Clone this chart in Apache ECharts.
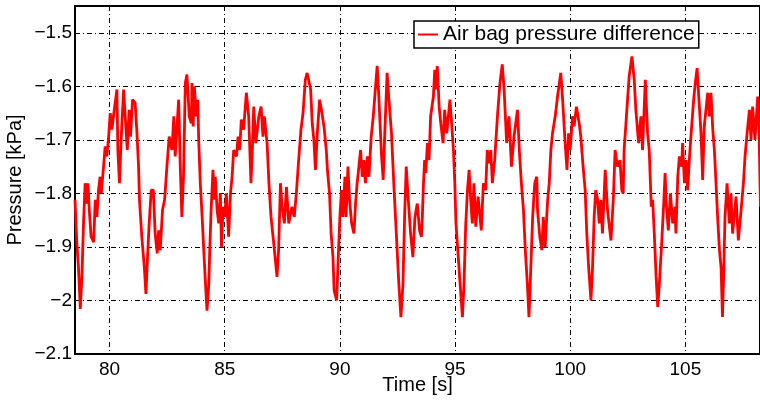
<!DOCTYPE html>
<html>
<head>
<meta charset="utf-8">
<script src="https://cdn.jsdelivr.net/npm/echarts@6/dist/echarts.min.js"></script>
<style>html,body{margin:0;padding:0;background:#fff}#c{width:760px;height:401px}</style>
</head>
<body>
<div id="c"></div>
<script>
var seriesName = 'Air bag pressure difference';
var xTickLabels = ['80','85','90','95','100','105'];
var yTickLabels = ['\u22122.1','\u22122','\u22121.9','\u22121.8','\u22121.7','\u22121.6','\u22121.5'];

var time = [
78.50,78.58,78.65,78.73,78.80,78.87,78.94,79.02,79.06,79.12,79.20,79.31,79.38,79.45,79.52,79.59,79.64,79.74,79.81,79.88,79.96,
80.03,80.10,80.17,80.32,80.36,80.43,80.51,80.61,80.68,80.77,80.85,80.91,81.00,81.11,81.19,81.26,81.30,81.40,81.51,81.58,81.65,
81.72,81.81,81.90,81.98,82.07,82.13,82.20,82.30,82.39,82.49,82.59,82.71,82.79,82.85,83.00,83.07,83.14,83.21,83.29,83.36,83.46,83.55,
83.58,83.63,83.68,83.77,83.83,83.87,83.94,84.02,84.09,84.15,84.23,84.31,84.35,84.41,84.49,84.55,84.59,84.67,84.74,84.81,84.86,84.93,
85.00,85.07,85.17,85.25,85.32,85.39,85.51,85.58,85.65,85.72,85.82,85.94,86.04,86.14,86.20,86.26,86.35,86.48,86.58,86.66,86.72,86.84,
86.92,87.01,87.13,87.27,87.34,87.42,87.49,87.59,87.68,87.78,87.92,88.02,88.11,88.21,88.31,88.40,88.50,
88.58,88.65,88.73,88.80,88.87,88.94,89.02,89.12,89.20,89.31,89.41,89.46,89.55,89.62,89.70,89.75,89.86,89.93,
90.00,90.07,90.13,90.22,90.27,90.35,90.42,90.51,90.61,90.68,90.75,90.90,90.97,91.04,91.11,91.19,91.26,91.36,91.45,91.55,91.62,91.69,
91.81,91.88,91.95,92.05,92.13,92.24,92.34,92.45,92.56,92.65,92.74,92.81,92.88,92.97,93.07,93.17,93.26,93.36,93.46,
93.54,93.58,93.63,93.68,93.73,93.80,93.87,93.94,94.06,94.12,94.18,94.23,94.31,94.38,94.48,94.55,94.64,94.78,94.86,94.93,94.99,
95.04,95.10,95.22,95.32,95.39,95.46,95.54,95.61,95.68,95.75,95.82,95.90,96.00,96.14,96.23,96.33,96.40,96.48,96.55,96.62,96.72,96.84,
96.95,97.05,97.13,97.24,97.34,97.45,97.56,97.71,97.79,97.88,97.97,98.05,98.14,98.21,98.29,98.37,98.46,98.55,
98.58,98.68,98.77,98.83,98.91,99.02,99.09,99.16,99.23,99.35,99.45,99.59,99.67,99.78,99.86,99.93,
100.00,100.10,100.17,100.27,100.39,100.46,100.56,100.65,100.72,100.80,100.90,100.97,101.04,101.11,101.19,101.26,101.33,101.40,101.52,
101.62,101.77,101.87,101.95,102.05,102.16,102.24,102.30,102.34,102.42,102.49,102.56,102.68,102.78,102.85,102.97,103.07,103.14,103.26,
103.36,103.43,103.52,
103.58,103.65,103.73,103.80,103.87,103.97,104.06,104.12,104.16,104.26,104.35,104.45,104.55,104.59,104.67,104.74,104.84,104.88,104.96,
105.03,105.10,105.17,105.25,105.36,105.43,105.51,105.58,105.68,105.75,105.82,105.97,106.04,106.11,106.19,106.26,106.33,106.40,106.48,
106.55,106.61,106.66,106.72,106.81,106.91,106.98,107.05,107.20,107.30,107.42,107.52,107.59,107.68,107.78,107.85,107.92,108.02,108.14,
108.20,108.26
];

var pressure = [
-1.812,-1.894,-1.938,-2.016,-1.956,-1.856,-1.781,-1.819,-1.781,-1.831,-1.881,-1.891,-1.812,-1.844,-1.794,-1.769,-1.800,-1.750,-1.712,-1.731,-1.694,
-1.650,-1.681,-1.656,-1.606,-1.719,-1.781,-1.694,-1.606,-1.656,-1.719,-1.644,-1.694,-1.625,-1.631,-1.688,-1.750,-1.812,-1.881,-1.938,-1.988,-1.919,
-1.856,-1.794,-1.794,-1.875,-1.912,-1.869,-1.906,-1.831,-1.812,-1.750,-1.694,-1.719,-1.656,-1.731,-1.625,-1.750,-1.844,-1.769,-1.594,-1.578,-1.656,-1.669,
-1.594,-1.675,-1.600,-1.656,-1.625,-1.700,-1.781,-1.844,-1.906,-1.956,-2.019,-1.969,-1.906,-1.831,-1.756,-1.812,-1.769,-1.831,-1.856,-1.800,-1.900,-1.825,
-1.844,-1.800,-1.881,-1.800,-1.769,-1.719,-1.731,-1.694,-1.719,-1.662,-1.681,-1.612,-1.656,-1.781,-1.719,-1.638,-1.706,-1.656,-1.638,-1.694,-1.656,-1.706,
-1.781,-1.844,-1.894,-1.956,-1.906,-1.781,-1.825,-1.856,-1.788,-1.856,-1.825,-1.844,-1.800,-1.738,-1.681,-1.650,-1.588,
-1.575,-1.572,-1.606,-1.669,-1.700,-1.756,-1.688,-1.625,-1.644,-1.675,-1.719,-1.756,-1.800,-1.875,-1.919,-1.981,-2.000,-1.919,
-1.844,-1.794,-1.844,-1.769,-1.844,-1.750,-1.812,-1.856,-1.875,-1.819,-1.781,-1.719,-1.769,-1.738,-1.781,-1.731,-1.769,-1.694,-1.656,-1.600,-1.562,-1.619,
-1.731,-1.775,-1.688,-1.575,-1.625,-1.688,-1.781,-1.875,-1.969,-2.031,-1.969,-1.844,-1.750,-1.812,-1.875,-1.919,-1.844,-1.819,-1.869,
-1.881,-1.844,-1.781,-1.738,-1.762,-1.706,-1.738,-1.656,-1.619,-1.569,-1.606,-1.562,-1.638,-1.669,-1.706,-1.644,-1.688,-1.625,-1.675,-1.719,-1.781,
-1.856,-1.856,-1.969,-2.031,-1.969,-1.862,-1.794,-1.756,-1.812,-1.856,-1.781,-1.862,-1.806,-1.869,-1.781,-1.794,-1.719,-1.744,-1.719,-1.781,-1.738,-1.656,
-1.594,-1.559,-1.606,-1.706,-1.656,-1.750,-1.694,-1.644,-1.719,-1.781,-1.831,-1.906,-1.969,-2.031,-1.938,-1.844,-1.781,-1.769,
-1.831,-1.881,-1.906,-1.844,-1.900,-1.812,-1.781,-1.719,-1.688,-1.656,-1.619,-1.575,-1.625,-1.706,-1.756,-1.688,
-1.719,-1.656,-1.675,-1.638,-1.669,-1.694,-1.750,-1.794,-1.875,-1.938,-2.000,-1.938,-1.844,-1.794,-1.812,-1.856,-1.812,-1.875,-1.756,
-1.831,-1.888,-1.812,-1.719,-1.750,-1.738,-1.794,-1.800,-1.719,-1.669,-1.625,-1.581,-1.544,-1.588,-1.644,-1.706,-1.656,-1.719,-1.588,
-1.688,-1.719,-1.825,
-1.812,-1.875,-1.956,-2.012,-1.969,-1.894,-1.819,-1.762,-1.812,-1.869,-1.800,-1.856,-1.825,-1.875,-1.769,-1.731,-1.750,-1.706,-1.781,
-1.738,-1.794,-1.738,-1.688,-1.625,-1.594,-1.566,-1.619,-1.688,-1.775,-1.675,-1.612,-1.656,-1.612,-1.681,-1.719,-1.781,-1.844,-1.906,
-1.938,-2.031,-1.956,-1.844,-1.781,-1.856,-1.800,-1.875,-1.806,-1.888,-1.831,-1.781,-1.731,-1.688,-1.644,-1.700,-1.638,-1.700,-1.619,
-1.688,-1.825
];

var data = time.map(function (t, i) { return [t, pressure[i]]; });
var FONT = 'Liberation Sans';
var gridDash = [5, 3, 1, 3];

var chart = echarts.init(document.getElementById('c'), null, {renderer: 'canvas'});
chart.setOption({
  animation: false,
  backgroundColor: '#fff',
  grid: {left: 75, right: 0, top: 6, bottom: 47, containLabel: false, outerBoundsMode: 'none',
         show: true, borderColor: '#000', borderWidth: 2, backgroundColor: 'transparent'},
  legend: {
    data: [seriesName], left: 414, top: 21, orient: 'horizontal',
    icon: 'rect', itemWidth: 20, itemHeight: 2,
    borderColor: '#000', borderWidth: 1.5, padding: [3, 4, 3, 4],
    backgroundColor: '#fff',
    textStyle: {fontFamily: FONT, fontSize: 21, color: '#000'}
  },
  xAxis: {
    type: 'value', min: 78.5, max: 108.24, splitNumber: 6,
    name: 'Time [s]', nameLocation: 'middle', nameGap: 21, nameMoveOverlap: false,
    nameTextStyle: {fontFamily: FONT, fontSize: 20, color: '#000'},
    axisLine: {show: true, onZero: false, lineStyle: {color: '#000', width: 2}},
    axisTick: {show: false},
    axisLabel: {
      fontFamily: FONT, fontSize: 19, color: '#000', margin: 6, showMinLabel: false, showMaxLabel: false,
      formatter: function (v) { var s = String(Math.round(v)); return (Math.abs(v - Math.round(v)) < 1e-6 && xTickLabels.indexOf(s) >= 0) ? s : ''; }
    },
    splitLine: {show: true, lineStyle: {color: '#000', width: 1, type: gridDash}}
  },
  yAxis: {
    type: 'value', min: -2.1, max: -1.45, interval: 0.1,
    name: 'Pressure [kPa]', nameLocation: 'middle', nameGap: 50, nameMoveOverlap: false,
    nameTextStyle: {fontFamily: FONT, fontSize: 20, color: '#000'},
    axisLine: {show: true, onZero: false, lineStyle: {color: '#000', width: 2}},
    axisTick: {show: false},
    axisLabel: {
      fontFamily: FONT, fontSize: 19, color: '#000', margin: 3, showMaxLabel: false,
      formatter: function (v) {
        var s = String(Number(v.toFixed(2))).replace('-', '\u2212');
        return yTickLabels.indexOf(s) >= 0 ? s : '';
      }
    },
    splitLine: {show: true, lineStyle: {color: '#000', width: 1, type: gridDash}}
  },
  series: [{
    name: seriesName, type: 'line', data: data, showSymbol: false, symbol: 'none',
    lineStyle: {color: '#ff0000', width: 2.8}, itemStyle: {color: '#ff0000'}
  }]
});
</script>
</body>
</html>
